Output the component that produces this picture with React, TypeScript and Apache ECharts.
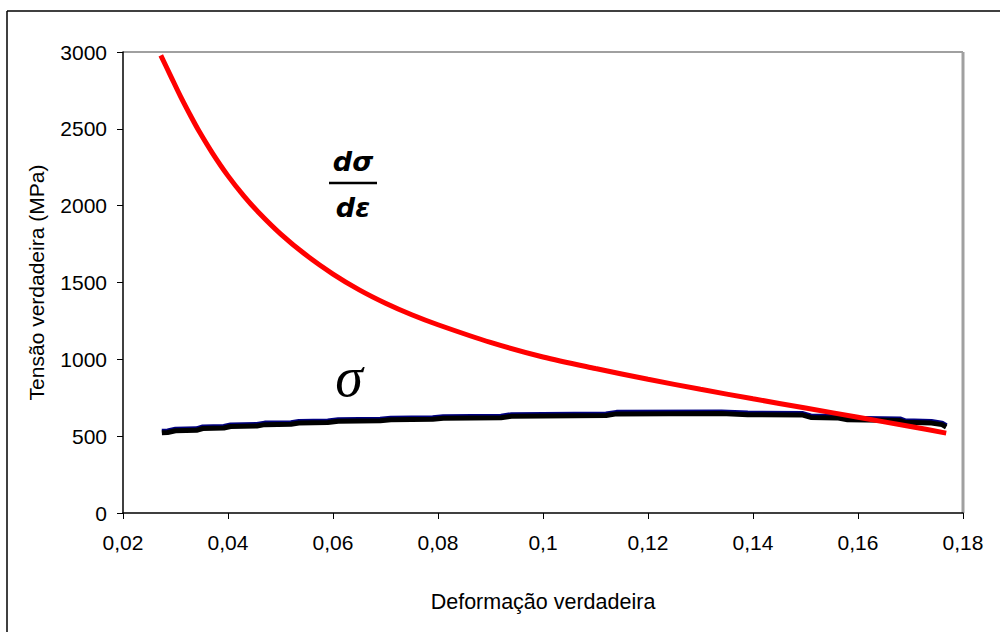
import React, { useEffect, useRef } from "react";
import * as echarts from "echarts";

// dσ/dε (MPa)
const derivEps = [0.0272, 0.029, 0.031, 0.033, 0.0345, 0.037, 0.04, 0.043, 0.0457, 0.05, 0.055, 0.06, 0.065, 0.07, 0.075, 0.08, 0.09, 0.1, 0.11, 0.12, 0.13, 0.14, 0.15, 0.16, 0.17, 0.1768];
const derivVal = [2978, 2850, 2708, 2577, 2484, 2344, 2194, 2064, 1961, 1817, 1675, 1555, 1452, 1365, 1290, 1225, 1110, 1015, 940, 870, 805, 743, 683, 623, 563, 520];

// σ true stress (black trace)
const sigmaEps = [0.0274, 0.0285, 0.03, 0.034, 0.0352, 0.0392, 0.0405, 0.0455, 0.047, 0.052, 0.0535, 0.059, 0.061, 0.069, 0.071, 0.079, 0.081, 0.092, 0.094, 0.112, 0.114, 0.134, 0.139, 0.1495, 0.151, 0.156, 0.158, 0.168, 0.169, 0.174, 0.176, 0.1768];
const sigmaBlack = [522, 524, 535, 538, 550, 553, 563, 566, 575, 578, 586, 589, 597, 600, 607, 610, 617, 620, 630, 634, 645, 648, 640, 637, 622, 619, 607, 602, 590, 585, 575, 560];
// σ (blue trace, just above the black one)
const sigmaBlue = [532, 534, 545, 548, 560, 563, 573, 576, 585, 588, 596, 599, 607, 610, 617, 620, 627, 630, 640, 644, 655, 658, 650, 647, 632, 629, 617, 612, 600, 595, 585, 568];

const xTicks = { min: 0.02, max: 0.18, interval: 0.02 };
const yTicks = { min: 0, max: 3000, interval: 500 };

const xName = "Deformação verdadeira";
const yName = "Tensão verdadeira (MPa)";

const pairs = (xs: number[], ys: number[]) => xs.map((x, i) => [x, ys[i]]);

export default function App() {
  const ref = useRef<HTMLDivElement>(null);
  useEffect(() => {
    if (!ref.current) return;
    const chart = echarts.init(ref.current, null, { renderer: "svg" });
    const font = "'Liberation Sans', Arial, sans-serif";
    const L = 123, T = 52, R = 963, B = 513;
    chart.setOption({
      animation: false,
      backgroundColor: "#fff",
      grid: { left: L, top: T, right: 1000 - R, bottom: 632 - B, show: false },
      xAxis: {
        type: "value",
        min: xTicks.min,
        max: xTicks.max,
        interval: xTicks.interval,
        name: xName,
        nameLocation: "middle",
        nameGap: 78,
        nameTextStyle: { fontFamily: font, fontSize: 21.5, color: "#000" },
        axisLine: { show: true, lineStyle: { color: "#000", width: 1.5 } },
        axisTick: { show: true, length: 6, lineStyle: { color: "#000", width: 1 } },
        axisLabel: {
          fontFamily: font, fontSize: 21, color: "#000", margin: 19,
          formatter: (v: number) => v.toFixed(2).replace(/0+$/, "").replace(/\.$/, "").replace(".", ","),
        },
        splitLine: { show: false },
      },
      yAxis: {
        type: "value",
        min: yTicks.min,
        max: yTicks.max,
        interval: yTicks.interval,
        name: yName,
        nameLocation: "middle",
        nameGap: 76,
        nameTextStyle: { fontFamily: font, fontSize: 21, color: "#000" },
        axisLine: { show: true, lineStyle: { color: "#000", width: 1.5 } },
        axisTick: { show: true, length: 6, lineStyle: { color: "#000", width: 1 } },
        axisLabel: { fontFamily: font, fontSize: 21, color: "#000", margin: 16, formatter: (v: number) => String(v) },
        splitLine: { show: false },
      },
      series: [
        {
          type: "line", data: pairs(sigmaEps, sigmaBlue), symbol: "none",
          lineStyle: { color: "#000080", width: 5 }, z: 2,
        },
        {
          type: "line", data: pairs(sigmaEps, sigmaBlack), symbol: "none",
          lineStyle: { color: "#000", width: 5 }, z: 3,
        },
        {
          type: "line", data: pairs(derivEps, derivVal), symbol: "none", smooth: 0.3,
          lineStyle: { color: "#ff0000", width: 5 }, z: 4,
        },
      ],
      graphic: [
        { type: "line", shape: { x1: 7, y1: 11, x2: 1000, y2: 11 }, style: { stroke: "#000", lineWidth: 1.5 } },
        { type: "line", shape: { x1: 7, y1: 11, x2: 7, y2: 632 }, style: { stroke: "#000", lineWidth: 1.5 } },
        { type: "line", shape: { x1: L, y1: T, x2: R, y2: T }, style: { stroke: "#a0a0a0", lineWidth: 2 } },
        { type: "line", shape: { x1: R, y1: T, x2: R, y2: B }, style: { stroke: "#a0a0a0", lineWidth: 3 } },
        {
          type: "text", x: 353, y: 161,
          style: { text: "dσ", font: "italic bold 27px 'DejaVu Sans', sans-serif", fill: "#000", align: "center", verticalAlign: "middle" },
        },
        { type: "line", shape: { x1: 329, y1: 183, x2: 377, y2: 183 }, style: { stroke: "#000", lineWidth: 2.5 } },
        {
          type: "text", x: 353, y: 207,
          style: { text: "dε", font: "italic bold 27px 'DejaVu Sans', sans-serif", fill: "#000", align: "center", verticalAlign: "middle" },
        },
        {
          type: "text", x: 349, y: 377,
          style: { text: "σ", font: "italic 56px 'Liberation Serif', serif", fill: "#000", align: "center", verticalAlign: "middle" },
        },
      ],
    });
    return () => chart.dispose();
  }, []);
  return <div ref={ref} style={{ position: "fixed", left: 0, top: 0, width: 1000, height: 632 }} />;
}
